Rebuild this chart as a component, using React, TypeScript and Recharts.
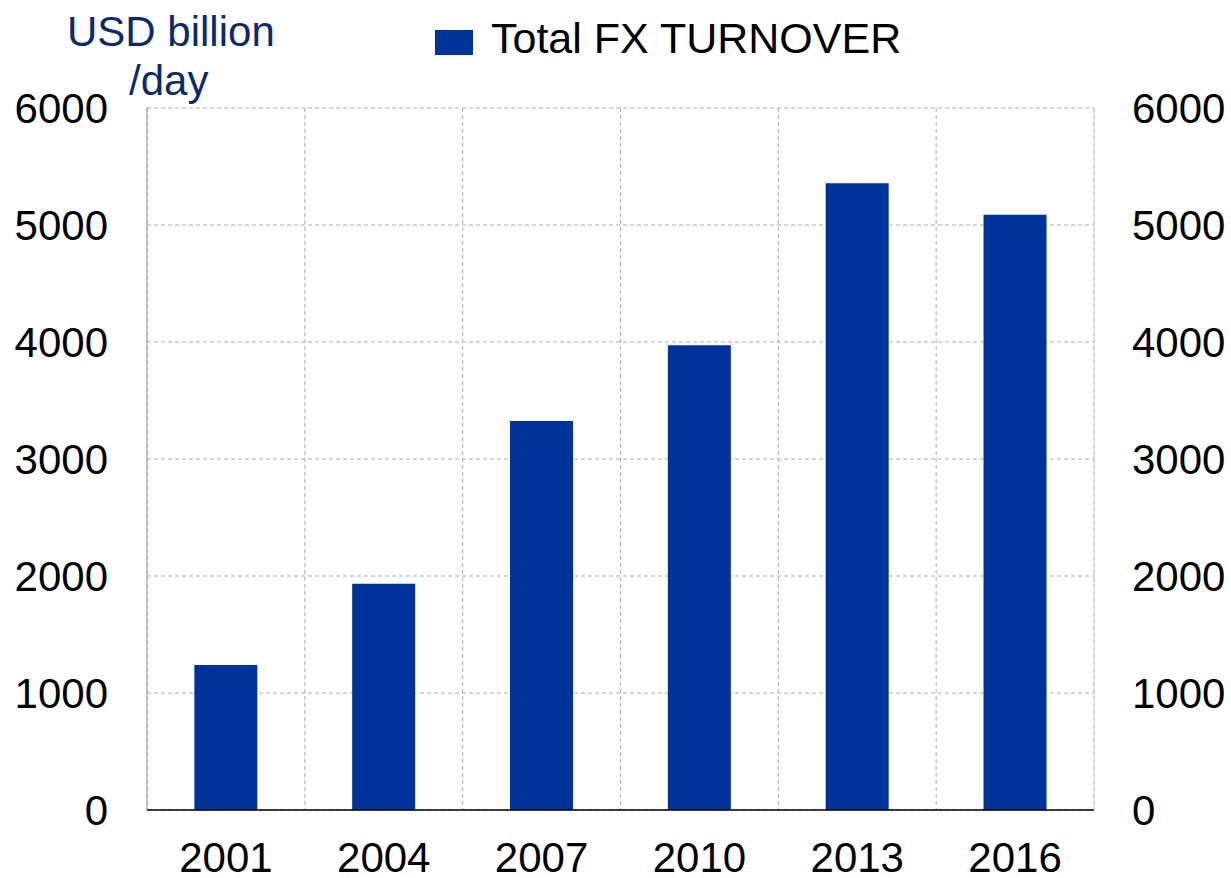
import React from 'react';
import { ComposedChart, Bar, Line, XAxis, YAxis, CartesianGrid, Legend } from 'recharts';

const years = ['2001', '2004', '2007', '2010', '2013', '2016'];
const turnover = [1239, 1934, 3324, 3973, 5357, 5088];
const yTicks = [0, 1000, 2000, 3000, 4000, 5000, 6000];
const boundaryTicks = [0, 1, 2, 3, 4, 5, 6];
const seriesName = 'Total FX TURNOVER';
const unitLine1 = 'USD billion';
const unitLine2 = '/day';

const data = years.map((y, i) => ({ year: y, value: turnover[i] }));
const boundaryData = boundaryTicks.map((b) => ({ bx: b, bv: 0 }));

const FONT = '"Liberation Sans", Arial, sans-serif';
const BLUE = '#003399';

const LegendContent = (props: any) => {
  const items = (props.payload || []).filter((it: any) => it.type !== 'none');
  return (
    <div style={{ display: 'flex', alignItems: 'center' }}>
      {items.map((it: any) => (
        <div key={it.value} style={{ display: 'flex', alignItems: 'center' }}>
          <div style={{ width: 38, height: 25, background: it.color, marginRight: 18, marginTop: 8 }} />
          <span style={{ fontFamily: FONT, fontSize: 43, color: '#000', whiteSpace: 'nowrap' }}>{it.value}</span>
        </div>
      ))}
    </div>
  );
};

const EmptyTick = () => <g />;

export default function App() {
  return (
    <div style={{ position: 'absolute', left: 0, top: 0, width: 1231, height: 878, background: '#fff' }}>
      <div style={{ position: 'absolute', left: 67, top: 8, fontFamily: FONT, fontSize: 42, color: '#0b2a6b', lineHeight: '48px', whiteSpace: 'nowrap' }}>
        {unitLine1}
      </div>
      <div style={{ position: 'absolute', left: 129, top: 57, fontFamily: FONT, fontSize: 42, color: '#0b2a6b', lineHeight: '48px', whiteSpace: 'nowrap' }}>
        {unitLine2}
      </div>
      <ComposedChart
        width={1231}
        height={878}
        data={data}
        margin={{ top: 108, left: 47, right: 37, bottom: 8 }}
        barCategoryGap="30%"
      >
        <XAxis
          xAxisId="b"
          dataKey="bx"
          type="number"
          domain={[0, 6]}
          ticks={boundaryTicks}
          tick={EmptyTick}
          tickSize={12}
          tickLine={{ stroke: '#999' }}
          axisLine={false}
          height={0}
          allowDataOverflow
        />
        <XAxis
          xAxisId="cat"
          dataKey="year"
          type="category"
          tickLine={false}
          tickSize={0}
          tickMargin={32}
          axisLine={{ stroke: '#000', strokeWidth: 1.5 }}
          tick={{ fill: '#000', fontSize: 42, fontFamily: FONT }}
          height={60}
          interval={0}
        />
        <YAxis
          yAxisId="l"
          domain={[0, 6000]}
          ticks={yTicks}
          tickLine={false}
          tickSize={0}
          tickMargin={39}
          axisLine={{ stroke: '#999' }}
          tick={{ fill: '#000', fontSize: 42, fontFamily: FONT }}
          width={100}
          interval={0}
        />
        <YAxis
          yAxisId="r"
          orientation="right"
          domain={[0, 6000]}
          ticks={yTicks}
          tickLine={false}
          tickSize={0}
          tickMargin={38}
          axisLine={{ stroke: '#d4d4d4' }}
          tick={{ fill: '#000', fontSize: 42, fontFamily: FONT }}
          width={100}
          interval={0}
        />
        <CartesianGrid xAxisId="b" yAxisId="l" stroke="#aaa" strokeDasharray="4 3" />
        <Legend
          layout="vertical"
          align="center"
          verticalAlign="middle"
          wrapperStyle={{ top: 14, left: 435, width: 'auto', height: 'auto' }}
          content={<LegendContent />}
        />
        <Bar
          xAxisId="cat"
          yAxisId="l"
          dataKey="value"
          name={seriesName}
          fill={BLUE}
          isAnimationActive={false}
          legendType="square"
        />
        <Line
          xAxisId="cat"
          yAxisId="r"
          dataKey="value"
          stroke="none"
          dot={false}
          activeDot={false}
          legendType="none"
          isAnimationActive={false}
        />
        <Line
          xAxisId="b"
          yAxisId="l"
          data={boundaryData}
          dataKey="bv"
          stroke="none"
          dot={false}
          activeDot={false}
          legendType="none"
          isAnimationActive={false}
        />
      </ComposedChart>
    </div>
  );
}
